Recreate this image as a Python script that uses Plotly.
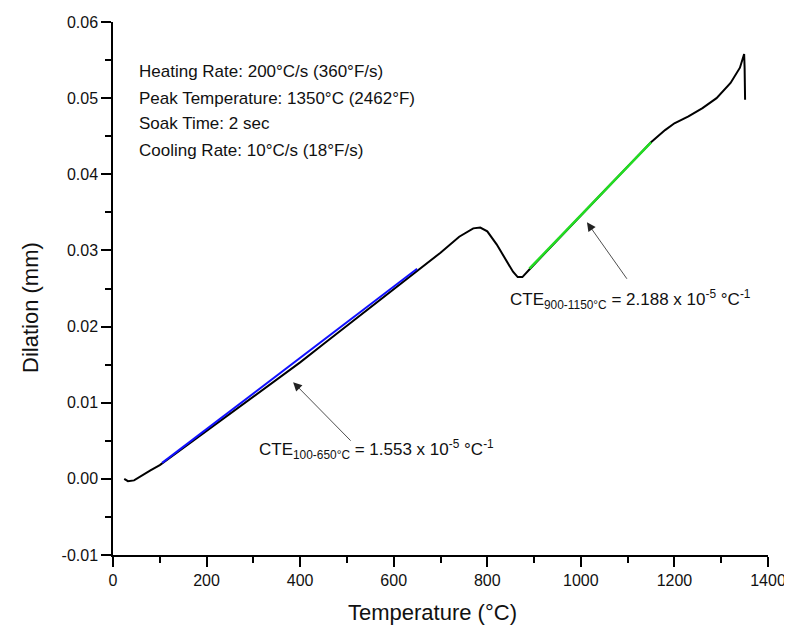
import plotly.graph_objects as go

temp_c = [24, 32, 45, 60, 80, 100, 120, 150, 200, 250, 300, 350, 400, 450, 500, 550,
          600, 650, 700, 740, 770, 785, 800, 820, 840, 855, 865, 875, 890, 950, 1000,
          1050, 1100, 1150, 1180, 1200, 1230, 1260, 1290, 1320, 1340, 1349, 1350, 1351]
dilation_mm = [0.0000, -0.0003, -0.0002, 0.0004, 0.0011, 0.0018, 0.0027, 0.0040, 0.0062,
               0.0085, 0.0108, 0.0130, 0.0153, 0.0177, 0.0201, 0.0225, 0.0250, 0.0274,
               0.0297, 0.0318, 0.0329, 0.0330, 0.0325, 0.0308, 0.0287, 0.0272, 0.0265,
               0.0265, 0.0275, 0.0314, 0.0346, 0.0378, 0.0410, 0.0442, 0.0458, 0.0467,
               0.0476, 0.0487, 0.0500, 0.0520, 0.0540, 0.0558, 0.0540, 0.0498]

# Linear fits
fit1_t = [105, 650]
fit1_d = [0.0021, 0.0276]
fit2_t = [890, 1150]
fit2_d = [0.0276, 0.0442]

info_lines = ["Heating Rate: 200°C/s (360°F/s)",
              "Peak Temperature: 1350°C (2462°F)",
              "Soak Time: 2 sec",
              "Cooling Rate: 10°C/s (18°F/s)"]

x_ticks = [0, 200, 400, 600, 800, 1000, 1200, 1400]
y_ticks = [-0.01, 0.00, 0.01, 0.02, 0.03, 0.04, 0.05, 0.06]

FONT = "Arial, Liberation Sans, sans-serif"
OFF = 8  # page body margin
W, H = 792 - OFF, 633 - OFF
L, R, T, B = 113 - OFF, 24, 22 - OFF, 78
PW, PH = W - L - R, H - T - B

def px_x(sx):
    return (sx - 113) / PW

def px_y(sy):
    return (555 - sy) / PH

fig = go.Figure()
fig.add_trace(go.Scatter(x=temp_c, y=dilation_mm, mode="lines",
                         line=dict(color="black", width=2), showlegend=False))
fig.add_trace(go.Scatter(x=fit1_t, y=fit1_d, mode="lines",
                         line=dict(color="#1010ff", width=2), showlegend=False))
fig.add_trace(go.Scatter(x=fit2_t, y=fit2_d, mode="lines",
                         line=dict(color="#22dd22", width=2.5), showlegend=False))

annotations = []
for i, t in enumerate(info_lines):
    annotations.append(dict(xref="paper", yref="paper", x=px_x(137),
                            y=px_y(72 + 26 * i), text=t, showarrow=False,
                            xanchor="left", yanchor="middle",
                            font=dict(family=FONT, size=17, color="#111")))

# Arrows
annotations.append(dict(x=385, y=0.0127, xref="x", yref="y", text="", showarrow=True,
                        ax=59, ay=60, arrowhead=2, arrowsize=2.2, arrowwidth=0.8,
                        arrowcolor="#222"))
annotations.append(dict(x=1013, y=0.0337, xref="x", yref="y", text="", showarrow=True,
                        ax=41, ay=58, arrowhead=2, arrowsize=2.2, arrowwidth=0.8,
                        arrowcolor="#222"))

annotations.append(dict(x=308, y=0.0038, xref="x", yref="y", showarrow=False,
                        xanchor="left", yanchor="middle",
                        text="CTE<sub>100-650°C</sub> = 1.553 x 10<sup>-5</sup> °C<sup>-1</sup>",
                        font=dict(family=FONT, size=17, color="#111")))
annotations.append(dict(x=844, y=0.0235, xref="x", yref="y", showarrow=False,
                        xanchor="left", yanchor="middle",
                        text="CTE<sub>900-1150°C</sub> = 2.188 x 10<sup>-5</sup> °C<sup>-1</sup>",
                        font=dict(family=FONT, size=17, color="#111")))

# Axis titles as positioned text
annotations.append(dict(xref="paper", yref="paper", x=px_x(432), y=px_y(612),
                        text="Temperature (°C)", showarrow=False, xanchor="center",
                        yanchor="middle", font=dict(family=FONT, size=22, color="#111")))
annotations.append(dict(xref="paper", yref="paper", x=px_x(30), y=px_y(308),
                        text="Dilation (mm)", showarrow=False, xanchor="center",
                        yanchor="middle", textangle=-90,
                        font=dict(family=FONT, size=22, color="#111")))

fig.update_layout(
    width=W, height=H,
    margin=dict(l=L, r=R, t=T, b=B, autoexpand=False),
    paper_bgcolor="white", plot_bgcolor="white",
    annotations=annotations,
    font=dict(family=FONT, color="#111"),
)
fig.update_xaxes(range=[0, 1400], tickvals=x_ticks, ticktext=[str(v) for v in x_ticks],
                 automargin=False,
                 showgrid=False, zeroline=False, showline=True, linecolor="black",
                 linewidth=1.5, ticks="outside", ticklen=10, tickwidth=1.5,
                 tickcolor="black", tickfont=dict(size=16, family=FONT, color="#111"),
                 minor=dict(dtick=100, ticks="outside", ticklen=6, tickwidth=1.5,
                            tickcolor="black", showgrid=False))
fig.update_yaxes(range=[-0.01, 0.06], tickvals=y_ticks,
                 ticktext=[f"{v:.2f}" for v in y_ticks], automargin=False,
                 showgrid=False, zeroline=False, showline=True, linecolor="black",
                 linewidth=1.5, ticks="outside", ticklen=10, tickwidth=1.5,
                 tickcolor="black", tickfont=dict(size=16, family=FONT, color="#111"),
                 minor=dict(dtick=0.005, tick0=0, ticks="outside", ticklen=6,
                            tickwidth=1.5, tickcolor="black", showgrid=False))

fig.write_html("out.html")
